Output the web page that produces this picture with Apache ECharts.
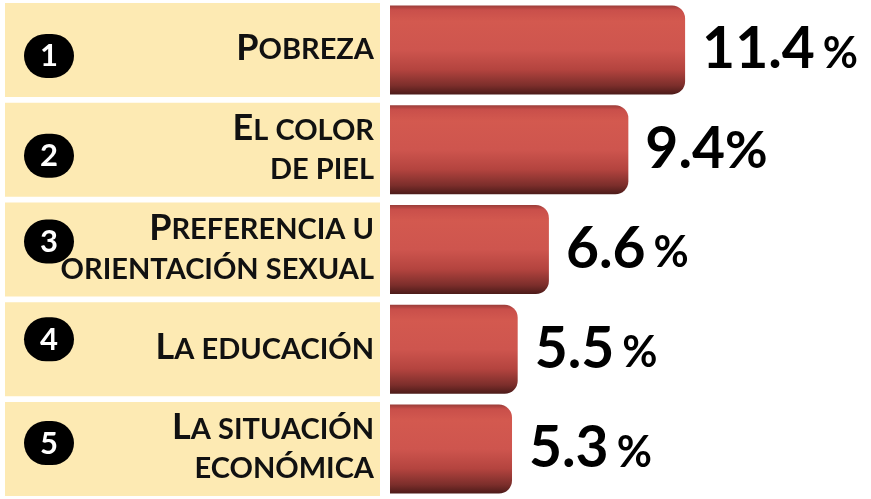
<!DOCTYPE html>
<html>
<head>
<meta charset="utf-8">
<script src="https://cdn.jsdelivr.net/npm/echarts@6/dist/echarts.min.js"></script>
<style>
  html, body { margin: 0; padding: 0; background: #fff; }
  #chart { width: 871px; height: 499px; }
</style>
</head>
<body>
<div id="chart"></div>
<script>
    // datos del ranking
    var categorias = ['Pobreza', 'El color\nde piel', 'Preferencia u\norientación sexual', 'La educación', 'La situación\neconómica'];
    var valores = [11.4, 9.4, 6.6, 5.5, 5.3];
    var numeros = ['1', '2', '3', '4', '5'];

    // corrimiento vertical de cada circulo (px, + hacia abajo)
    var corrimiento = [6, 6, -8, -10, -6];

    var myChart = echarts.init(document.getElementById('chart'), null, { renderer: 'canvas' });

    // versalitas: primera letra grande, resto en mayusculas chicas
    function versalitas(txt) {
        var lineas = txt.split('\n');
        return lineas.map(function (l, i) {
            var up = l.toUpperCase();
            if (i === 0) return '{a|' + up.charAt(0) + '}{b|' + up.slice(1) + '}';
            return '{b|' + up + '}';
        }).join('\n');
    }

    var richCirculo = {
        n: {
            width: 50, padding: [7, 0, 6, 0], align: 'center',
            backgroundColor: '#000', borderRadius: 22,
            color: '#fff', fontFamily: 'Lato', fontWeight: 'bold', fontSize: 31
        }
    };
    corrimiento.forEach(function (d) {
        var k = 's' + Math.abs(d);
        richCirculo[k] = { fontSize: 1, lineHeight: Math.abs(d) * 2 };
    });

    var sinLinea = { axisLine: { show: false }, axisTick: { show: false }, splitLine: { show: false } };

    var options = {
        backgroundColor: '#ffffff',
        animation: false,
        grid: { left: 390, right: 27, top: -1, bottom: -4, containLabel: false },
        xAxis: { type: 'value', min: 1, max: 17, show: false },
        yAxis: [
            // cajas beige
            Object.assign({
                type: 'category',
                inverse: true,
                data: categorias,
                axisLabel: {
                    interval: 0,
                    margin: 10,
                    width: 375,
                    height: 94,
                    backgroundColor: '#fdeab3',
                    align: 'right',
                    verticalAlign: 'middle',
                    formatter: function () { return ' '; }
                }
            }, sinLinea),
            // textos
            Object.assign({
                type: 'category',
                inverse: true,
                position: 'left',
                z: 3,
                data: categorias,
                axisLabel: {
                    interval: 0,
                    margin: 16,
                    align: 'right',
                    verticalAlign: 'middle',
                    formatter: function (v) { return versalitas(v); },
                    rich: {
                        a: { fontFamily: 'Lato', fontWeight: 'bold', fontSize: 36, color: '#111', align: 'right', padding: [0, 0, 4, 0] },
                        b: { fontFamily: 'Lato', fontWeight: 'bold', fontSize: 29, color: '#111', align: 'right', lineHeight: 39 }
                    }
                }
            }, sinLinea),
            // circulos numerados
            Object.assign({
                type: 'category',
                inverse: true,
                position: 'left',
                offset: 341,
                z: 5,
                data: numeros,
                axisLabel: {
                    interval: 0,
                    margin: 0,
                    align: 'center',
                    verticalAlign: 'middle',
                    formatter: function (v, i) {
                        var d = corrimiento[i];
                        var esp = '{s' + Math.abs(d) + '| }';
                        if (d > 0) return esp + '\n{n|' + v + '}';
                        if (d < 0) return '{n|' + v + '}\n' + esp;
                        return '{n|' + v + '}';
                    },
                    rich: richCirculo
                }
            }, sinLinea)
        ],
        series: [
            {
                type: 'bar',
                yAxisIndex: 0,
                data: valores,
                barWidth: 89,
                itemStyle: {
                    borderRadius: [0, 13, 13, 0],
                    color: new echarts.graphic.LinearGradient(0, 0, 0, 1, [
                        { offset: 0, color: '#9a3c38' },
                        { offset: 0.05, color: '#c94f4a' },
                        { offset: 0.18, color: '#d3594f' },
                        { offset: 0.5, color: '#ce554e' },
                        { offset: 0.72, color: '#b4443f' },
                        { offset: 0.9, color: '#7c2e2b' },
                        { offset: 1, color: '#4c1b19' }
                    ])
                },
                label: {
                    show: true,
                    position: 'right',
                    distance: 17,
                    formatter: function (p) {
                        var n = p.value.toFixed(1);
                        if (p.dataIndex === 1) return '{v|' + n + '}{q|%}';
                        return '{v|' + n + '}{p|%}';
                    },
                    rich: {
                        v: { fontFamily: 'Lato', fontWeight: 'bold', fontSize: 57, color: '#000' },
                        p: { fontFamily: 'Lato', fontWeight: 'bold', fontSize: 43, color: '#000', padding: [8, 0, 0, 8] },
                        q: { fontFamily: 'Lato', fontWeight: 'bold', fontSize: 52, color: '#000', padding: [3, 0, 0, 0] }
                    }
                }
            }
        ]
    };
    myChart.setOption(options);
</script>
</body>
</html>
